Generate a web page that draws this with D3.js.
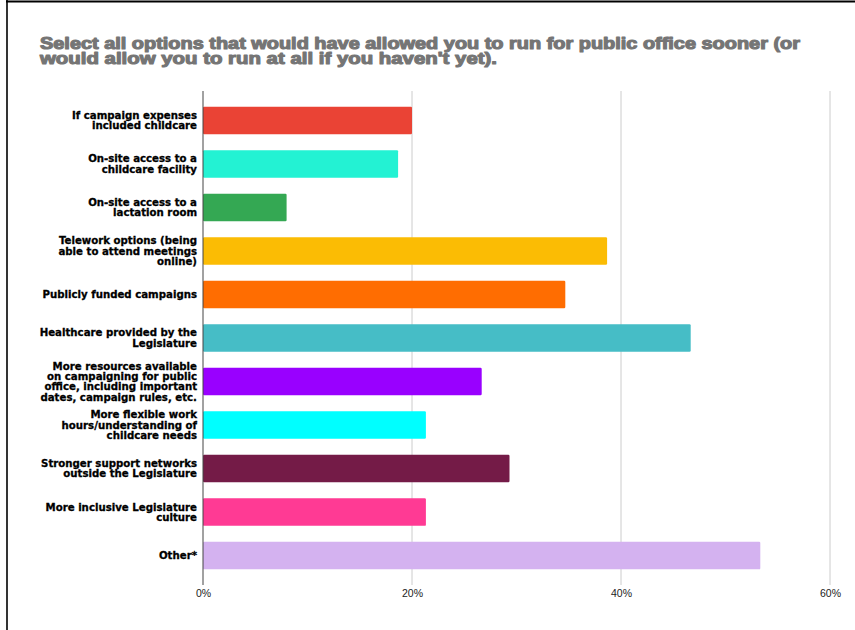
<!DOCTYPE html>
<html>
<head>
<meta charset="utf-8">
<script src="https://cdn.jsdelivr.net/npm/d3@7"></script>
<style>
  html, body { margin: 0; padding: 0; background: #fff; }
  svg { display: block; }
</style>
</head>
<body>
<svg id="chart" width="855" height="630"></svg>
<script>
// Survey options (label lines separated by "\n")
const categories = [
  "If campaign expenses\nincluded childcare",
  "On-site access to a\nchildcare facility",
  "On-site access to a\nlactation room",
  "Telework options (being\nable to attend meetings\nonline)",
  "Publicly funded campaigns",
  "Healthcare provided by the\nLegislature",
  "More resources available\non campaigning for public\noffice, including important\ndates, campaign rules, etc.",
  "More flexible work\nhours/understanding of\nchildcare needs",
  "Stronger support networks\noutside the Legislature",
  "More inclusive Legislature\nculture",
  "Other*"
];

// Share of respondents selecting each option (%)
const values = [20.00, 18.67, 8.00, 38.67, 34.67, 46.67, 26.67, 21.33, 29.33, 21.33, 53.33];

const barColors = [
  "#ea4335", "#23f2d3", "#34a853", "#fbbc04", "#ff6d01", "#46bdc6",
  "#9900ff", "#00ffff", "#741b47", "#ff3a94", "#d4b2f0"
];

const tickValues = [0, 20, 40, 60];
const tickLabels = ["0%", "20%", "40%", "60%"];

const titleLines = [
  "Select all options that would have allowed you to run for public office sooner (or",
  "would allow you to run at all if you haven't yet)."
];

const svg = d3.select("#chart");

// frame
svg.append("line").attr("x1", 6).attr("x2", 855).attr("y1", 1.5).attr("y2", 1.5)
  .attr("stroke", "#000").attr("stroke-width", 2);
svg.append("line").attr("x1", 7).attr("x2", 7).attr("y1", 0).attr("y2", 630)
  .attr("stroke", "#000").attr("stroke-width", 1.6);

// title: one text element, one tspan per line
const titleWidths = [760, 457];
const title = svg.append("text")
  .attr("font-family", "'Liberation Sans', Arial, sans-serif")
  .attr("font-weight", "bold")
  .attr("font-size", 16.2)
  .attr("fill", "#757575")
  .attr("stroke", "#757575")
  .attr("stroke-width", 1.1)
  .attr("stroke-linejoin", "round");
titleLines.forEach((t, i) => {
  const ts = title.append("tspan")
    .attr("x", 40)
    .attr("y", 48.5 + i * 15.3)
    .text(t);
  const w = ts.node().getComputedTextLength();
  if (Math.abs(w - titleWidths[i]) > 2) {
    ts.attr("textLength", titleWidths[i]).attr("lengthAdjust", "spacingAndGlyphs");
  }
});

// scales
const x = d3.scaleLinear().domain([0, 60]).range([203, 830]);
const y = d3.scaleBand()
  .domain(categories)
  .range([91, 585])
  .paddingInner(0.3655)
  .paddingOuter(0.36);

// gridlines
svg.append("g")
  .selectAll("line")
  .data(tickValues.filter(d => d > 0))
  .join("line")
  .attr("x1", d => x(d)).attr("x2", d => x(d))
  .attr("y1", 91).attr("y2", 585)
  .attr("stroke", "#cccccc")
  .attr("stroke-width", 1);

// bars
svg.append("g")
  .selectAll("rect")
  .data(categories)
  .join("rect")
  .attr("x", x(0))
  .attr("y", d => y(d))
  .attr("width", (d, i) => x(values[i]) - x(0))
  .attr("height", y.bandwidth())
  .attr("rx", 1.2)
  .attr("fill", (d, i) => barColors[i]);

// baseline
svg.append("line")
  .attr("x1", x(0)).attr("x2", x(0))
  .attr("y1", 91).attr("y2", 585)
  .attr("stroke", "#444").attr("stroke-width", 1);

// x-axis tick labels
const xAxis = d3.axisBottom(x)
  .tickValues(tickValues)
  .tickFormat((d, i) => tickLabels[i])
  .tickSize(0)
  .tickPadding(0);
const xg = svg.append("g").attr("transform", "translate(0,590)").call(xAxis);
xg.select(".domain").remove();
xg.selectAll("text")
  .attr("font-family", "'Liberation Sans', Arial, sans-serif")
  .attr("font-size", 10.5)
  .attr("fill", "#222")
  .attr("dy", "0.71em");

// category labels
const yAxis = d3.axisLeft(y).tickSize(0).tickPadding(0).tickFormat("");
const yg = svg.append("g").attr("transform", "translate(197,0)").call(yAxis);
yg.select(".domain").remove();
const lh = 10.4;
yg.selectAll(".tick").each(function(d) {
  const lines = d.split("\n");
  const t = d3.select(this).select("text")
    .attr("text-anchor", "end")
    .attr("font-family", "'DejaVu Sans', sans-serif")
    .attr("font-weight", "bold")
    .attr("font-size", 10.2)
    .attr("fill", "#000")
    .attr("stroke", "#000")
    .attr("stroke-width", 0.3)
    .attr("x", 0)
    .attr("dy", null)
    .text(null);
  const y0 = -((lines.length - 1) * lh) / 2;
  lines.forEach((ln, j) => {
    t.append("tspan")
      .attr("x", 0)
      .attr("y", y0 + j * lh)
      .attr("dy", "0.36em")
      .text(ln);
  });
});
</script>
</body>
</html>
